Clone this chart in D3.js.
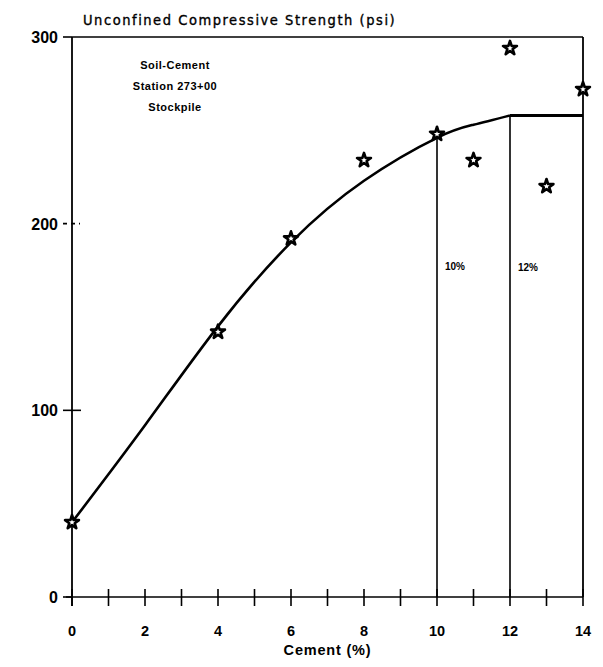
<!DOCTYPE html>
<html>
<head>
<meta charset="utf-8">
<script src="https://cdn.jsdelivr.net/npm/d3@7"></script>
<style>
  body { margin: 0; background: #fff; }
  svg { display: block; }
  text { fill: #000; }
</style>
</head>
<body>
<svg id="chart" width="603" height="667"></svg>
<script>
// Measured strengths at each cement content
const cementPct = [0, 4, 6, 8, 10, 11, 12, 13, 14];
const strengthPsi = [40, 142, 192, 234, 248, 234, 294, 220, 272];

// Smoothed strength curve up to 12 %, then held flat to 14 %
const fitPct = [0, 2, 4, 6, 8, 10, 11, 12];
const fitPsi = [40, 92, 145, 190, 223, 246, 253, 258];
const plateauPct = [12, 14];
const plateauPsi = [258, 258];

// Design cement contents marked with verticals
const markerPct = [10, 12];
const markerPsi = [248, 258];
const markerLabels = ["10%", "12%"];

const xTickValues = [0, 1, 2, 3, 4, 5, 6, 7, 8, 9, 10, 11, 12, 13, 14];
const xTickLabels = [0, 2, 4, 6, 8, 10, 12, 14];
const yTickValues = [0, 100, 200, 300];

const noteLines = ["Soil-Cement", "Station 273+00", "Stockpile"];
const titleText = "Unconfined Compressive Strength (psi)";
const xTitleText = "Cement (%)";

const svg = d3.select("#chart");
const x = d3.scaleLinear().domain([0, 14]).range([72, 583]);
const y = d3.scaleLinear().domain([0, 300]).range([597, 37]);

const boldFont = "'Liberation Sans', Arial, sans-serif";

// Frame: top and right edges
svg.append("line")
  .attr("x1", x(0)).attr("x2", x(14)).attr("y1", y(300)).attr("y2", y(300))
  .attr("stroke", "#000").attr("stroke-width", 1.6);
svg.append("line")
  .attr("x1", x(14)).attr("x2", x(14)).attr("y1", y(300)).attr("y2", y(0))
  .attr("stroke", "#000").attr("stroke-width", 1.8);

// X axis with crossing ticks
const xAxis = svg.append("g");
xAxis.append("line")
  .attr("x1", x(0) - 6).attr("x2", x(14)).attr("y1", y(0)).attr("y2", y(0))
  .attr("stroke", "#000").attr("stroke-width", 1.6);
xAxis.selectAll("line.tick").data(xTickValues).enter().append("line")
  .attr("class", "tick")
  .attr("x1", d => x(d)).attr("x2", d => x(d))
  .attr("y1", y(0) - 8).attr("y2", y(0) + 9)
  .attr("stroke", "#000").attr("stroke-width", 1.6);
xAxis.selectAll("text").data(xTickLabels).enter().append("text")
  .attr("x", d => x(d)).attr("y", y(0) + 39)
  .attr("text-anchor", "middle")
  .attr("font-family", boldFont).attr("font-weight", "bold").attr("font-size", 14.5)
  .text(d => d);

// Y axis with ticks
const yAxis = svg.append("g");
yAxis.append("line")
  .attr("x1", x(0)).attr("x2", x(0)).attr("y1", y(300)).attr("y2", y(0) + 9)
  .attr("stroke", "#000").attr("stroke-width", 1.8);
yAxis.selectAll("line.tick").data(yTickValues).enter().append("line")
  .attr("class", "tick")
  .attr("x1", x(0) - 9).attr("x2", d => d === 100 ? x(0) + 9 : (d === 200 ? x(0) + 8 : x(0)))
  .attr("y1", d => y(d)).attr("y2", d => y(d))
  .attr("stroke", "#000").attr("stroke-width", 1.6)
  .attr("stroke-dasharray", d => d === 200 ? "4,4" : null);
yAxis.selectAll("text").data(yTickValues).enter().append("text")
  .attr("x", x(0) - 14).attr("y", d => y(d) + 6)
  .attr("text-anchor", "end")
  .attr("font-family", boldFont).attr("font-weight", "bold").attr("font-size", 16)
  .text(d => d);

// Axis titles
svg.append("text")
  .attr("x", 83).attr("y", 25)
  .attr("font-size", 14.5)
  .attr("letter-spacing", 1.55)
  .attr("stroke", "#000").attr("stroke-width", 0.35)
  .style("font-family", "'DejaVu Sans Condensed', 'DejaVu Sans', sans-serif")
  .text(titleText);
svg.append("text")
  .attr("x", x(7)).attr("y", y(0) + 58)
  .attr("text-anchor", "middle")
  .attr("font-family", boldFont).attr("font-weight", "bold").attr("font-size", 14.5)
  .attr("letter-spacing", 0.8)
  .text(xTitleText);

// Vertical markers at 10 % and 12 %
svg.selectAll("line.marker").data(markerPct).enter().append("line")
  .attr("class", "marker")
  .attr("x1", d => x(d)).attr("x2", d => x(d))
  .attr("y1", (d, i) => y(markerPsi[i])).attr("y2", y(0))
  .attr("stroke", "#000").attr("stroke-width", 1.6);
svg.selectAll("text.marker").data(markerLabels).enter().append("text")
  .attr("class", "marker")
  .attr("x", (d, i) => x(markerPct[i]) + 8).attr("y", (d, i) => 270 + i * 1)
  .attr("font-family", boldFont).attr("font-weight", "bold").attr("font-size", 10)
  .text(d => d);

// Fitted curve and plateau
svg.append("path")
  .datum(fitPct.map((d, i) => [d, fitPsi[i]]))
  .attr("d", d3.line().x(d => x(d[0])).y(d => y(d[1])).curve(d3.curveNatural))
  .attr("fill", "none").attr("stroke", "#000").attr("stroke-width", 2.6);
svg.append("path")
  .datum(plateauPct.map((d, i) => [d, plateauPsi[i]]))
  .attr("d", d3.line().x(d => x(d[0])).y(d => y(d[1])))
  .attr("fill", "none").attr("stroke", "#000").attr("stroke-width", 3);

// Data stars
svg.selectAll("path.star").data(cementPct).enter().append("path")
  .attr("class", "star")
  .attr("transform", (d, i) => `translate(${x(d)},${y(strengthPsi[i])})`)
  .attr("d", d3.symbol().type(d3.symbolStar).size(60))
  .attr("fill", "#fff").attr("stroke", "#000").attr("stroke-width", 2.6)
  .attr("stroke-linejoin", "round");

// Note block
svg.selectAll("text.note").data(noteLines).enter().append("text")
  .attr("class", "note")
  .attr("x", 175).attr("y", (d, i) => 69 + i * 21)
  .attr("text-anchor", "middle")
  .attr("font-family", boldFont).attr("font-weight", "bold").attr("font-size", 11)
  .attr("letter-spacing", 0.5)
  .text(d => d);
</script>
</body>
</html>
